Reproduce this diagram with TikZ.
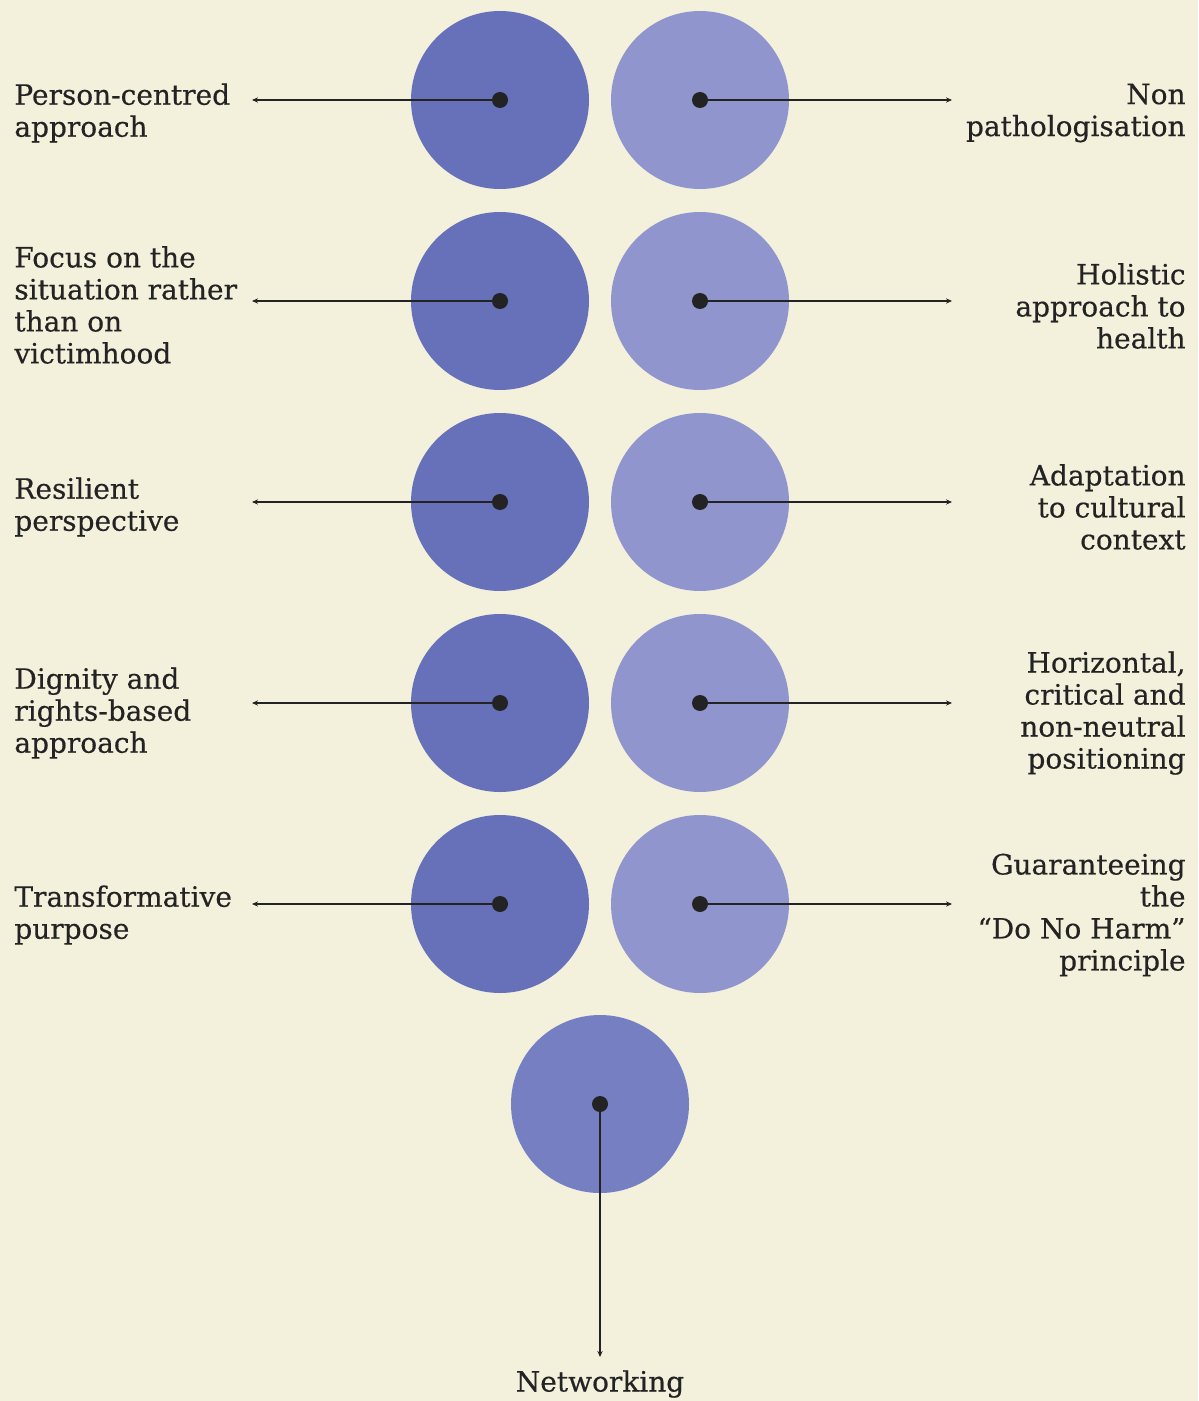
\documentclass[tikz,border=0pt]{standalone}
\usepackage{fontspec}
\setmainfont{DejaVu Serif}[FakeBold=0.4]
\usetikzlibrary{arrows.meta}
\definecolor{paper}{RGB}{243,240,220}
\definecolor{darkdisc}{RGB}{102,113,186}
\definecolor{lightdisc}{RGB}{144,150,205}
\definecolor{middisc}{RGB}{118,127,194}
\definecolor{ink}{RGB}{35,35,35}
\begin{document}
\begin{tikzpicture}[x=0.5pt,y=-0.5pt,
		disc/.style={circle,minimum size=89pt,inner sep=0pt,draw=none},
		hub/.style={circle,fill=ink,minimum size=8pt,inner sep=0pt},
		spoke/.style={ink,line width=1.3pt,-{Stealth[length=3pt,width=2.6pt]}},
		lefttext/.style={anchor=west,align=left,inner sep=0pt,font=\fontsize{14}{16}\selectfont,text=ink},
		righttext/.style={anchor=east,align=right,inner sep=0pt,font=\fontsize{14}{16}\selectfont,text=ink}]
		\fill [paper] (0,0) rectangle (1198,1401);
		\useasboundingbox (0,0) rectangle (1198,1401);
		% left column
		\foreach \i/\y in {1/100,2/301,3/502,4/703,5/904} {
			\node [disc,fill=darkdisc] (l\i) at (500,\y) {};
			\node [disc,fill=lightdisc] (r\i) at (700,\y) {};
			\node [hub] (lh\i) at (l\i.center) {};
			\node [hub] (rh\i) at (r\i.center) {};
			\coordinate (le\i) at (252,\y);
			\coordinate (re\i) at (952,\y);
			\draw [spoke] (lh\i.center) -- (le\i);
			\draw [spoke] (rh\i.center) -- (re\i);
		}
		\node [lefttext] (lt1) at (14,113) {Person-centred\\approach};
		\node [lefttext] (lt2) at (14,305) {Focus on the\\situation rather\\than on\\victimhood};
		\node [lefttext] (lt3) at (14,507) {Resilient\\perspective};
		\node [lefttext] (lt4) at (14,713) {Dignity and\\rights-based\\approach};
		\node [lefttext] (lt5) at (14,915) {Transformative\\purpose};
		% right column
		\node [righttext] (rt1) at (1186,113) {Non\\pathologisation};
		\node [righttext] (rt2) at (1186,306) {Holistic\\approach to\\health};
		\node [righttext] (rt3) at (1186,507) {Adaptation\\to cultural\\context};
		\node [righttext] (rt4) at (1186,713) {Horizontal,\\critical and\\non-neutral\\positioning};
		\node [righttext] (rt5) at (1186,915) {Guaranteeing\\the\\“Do No Harm”\\principle};
		% bottom
		\node [disc,fill=middisc] (b) at (600,1104) {};
		\node [hub] (bh) at (b.center) {};
		\coordinate (be) at (600,1357);
		\draw [spoke] (bh.center) -- (be);
		\node [font=\fontsize{14}{16}\selectfont,text=ink,inner sep=0pt] (bt) at (600,1384) {Networking};
	\end{tikzpicture}
\end{document}
